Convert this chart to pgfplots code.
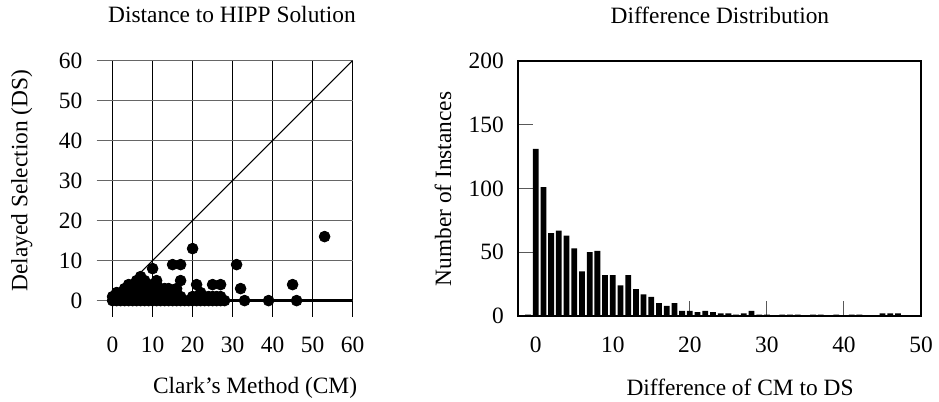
\documentclass[border=0pt]{standalone}
\usepackage{fontspec}
\setmainfont{Liberation Serif}
\usepackage{pgfplots}
\pgfplotsset{compat=1.18}

\begin{document}
\begin{tikzpicture}[x=1pt,y=1pt,font=\fontsize{11.7}{14}\selectfont]
\path[use as bounding box] (0,0) rectangle (469.5,201);

% left: scatter CM vs DS
\begin{axis}[
    at={(48.3pt,42.7pt)}, anchor=south west,
    scale only axis, width=128pt, height=128pt,
    xmin=-4, xmax=60, ymin=-4, ymax=60,
    xtick={0,10,...,60}, ytick={0,10,...,60},
    grid=major,
    x grid style={black, line width=0.5pt},
    y grid style={gray!80!black, line width=0.5pt},
    axis line style={draw=none},
    major tick length=0pt,
    /pgf/number format/assume math mode=true,
    xticklabel style={yshift=-6.8pt},
    yticklabel style={xshift=-3.6pt},
    title={Distance to HIPP Solution},
    title style={at={(rel axis cs:0.529,1.133)}, anchor=center},
    xlabel={Clark's Method (CM)},
    xlabel style={at={(rel axis cs:0.619,-0.28)}, anchor=center},
    ylabel={Delayed Selection (DS)},
    ylabel style={at={(rel axis cs:-0.292,0.531)}, anchor=center},
]
\addplot[black, line width=0.5pt] coordinates {(0,0) (60,60)};
\addplot[black, line width=1.4pt] coordinates {(0,0) (60,0)};
\addplot[only marks, mark=*, mark size=2.7pt, black] coordinates {
    (0,0) (0,1)
    (1,0) (1,1) (1,2)
    (2,0) (2,1) (2,2)
    (3,0) (3,1) (3,2) (3,3)
    (4,0) (4,1) (4,2) (4,3) (4,4)
    (5,0) (5,1) (5,2) (5,3) (5,4)
    (6,0) (6,1) (6,2) (6,3) (6,4) (6,5)
    (7,0) (7,1) (7,2) (7,3) (7,4) (7,5) (7,6)
    (8,0) (8,1) (8,2) (8,3) (8,4) (8,5)
    (9,0) (9,1) (9,2) (9,3) (9,4)
    (10,0) (10,1) (10,2) (10,3) (10,4) (10,8)
    (11,0) (11,1) (11,2) (11,3) (11,4) (11,5)
    (12,0) (12,1) (12,2) (12,3)
    (13,0) (13,1) (13,2) (13,3)
    (14,0) (14,1) (14,2) (14,3)
    (15,0) (15,1) (15,2) (15,9)
    (16,0) (16,1) (16,2) (16,3)
    (17,0) (17,1) (17,5) (17,9)
    (18,0) (19,0)
    (20,0) (20,1) (20,13)
    (21,0) (21,1) (21,4)
    (22,0) (22,2)
    (23,0) (23,1)
    (24,0) (24,1)
    (25,0) (25,1) (25,4)
    (26,0) (26,1)
    (27,0) (27,1) (27,4)
    (28,0)
    (31,9) (32,3) (33,0) (39,0) (45,4) (46,0) (53,16)
};
\end{axis}

% right: histogram of differences
\begin{axis}[
    at={(259pt,43pt)}, anchor=south west,
    scale only axis, width=201.5pt, height=127.5pt,
    xmin=-2.3, xmax=50, ymin=0, ymax=200,
    xtick={0,10,...,50}, ytick={0,50,...,200},
    xtick pos=lower, ytick pos=left,
    tick align=inside,
    major tick length=7.7pt,
    tick style={gray!70!black, line width=0.5pt},
    axis line style={black, line width=0.6pt},
    /pgf/number format/assume math mode=true,
    xticklabel style={yshift=-6.8pt},
    yticklabel style={xshift=-3.6pt},
    title={Difference Distribution},
    title style={at={(rel axis cs:0.501,1.133)}, anchor=center},
    xlabel={Difference of CM to DS},
    xlabel style={at={(rel axis cs:0.551,-0.28)}, anchor=center},
    ylabel={Number of Instances},
    ylabel style={at={(rel axis cs:-0.186,0.498)}, anchor=center},
]
\addplot[ybar, bar width=0.75, fill=black, draw=none] coordinates {
    (-1,1) (0,131) (1,101) (2,65) (3,67) (4,63) (5,53) (6,35) (7,50) (8,51)
    (9,32) (10,32) (11,24) (12,32) (13,21) (14,17) (15,15) (16,10) (17,8) (18,10)
    (19,4) (20,4) (21,3) (22,4) (23,3) (24,2) (25,2) (26,1) (27,2) (28,4)
    (29,1) (30,1) (32,1) (33,1) (34,1) (36,1) (37,1) (39,1) (41,1) (42,1)
    (45,2) (46,2) (47,2)
};
\end{axis}
\end{tikzpicture}
\end{document}
